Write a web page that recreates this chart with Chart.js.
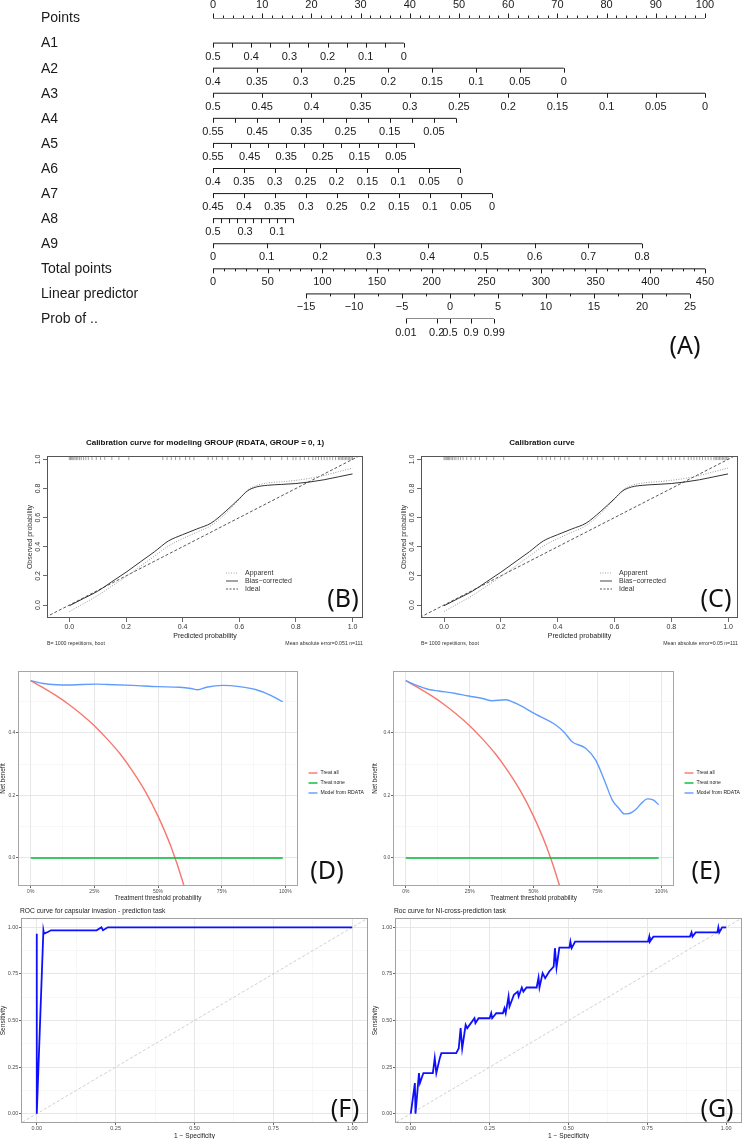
<!DOCTYPE html>
<html>
<head>
<meta charset="utf-8">
<title>Nomogram, calibration, decision and ROC curves</title>
<script src="https://cdn.jsdelivr.net/npm/chart.js@4.4.1/dist/chart.umd.min.js"></script>
<style>
  html, body { margin: 0; padding: 0; background: #fff; }
  body { position: relative; width: 744px; height: 1139px; overflow: hidden; }
  canvas { position: absolute; }
</style>
</head>
<body>
<canvas id="nomo" width="744" height="385" style="left:0;top:0"></canvas>
<canvas id="calB" width="372" height="265" style="left:0;top:395px"></canvas>
<canvas id="calC" width="372" height="265" style="left:372px;top:395px"></canvas>
<canvas id="dcaD" width="372" height="243" style="left:0;top:660px"></canvas>
<canvas id="dcaE" width="372" height="243" style="left:372px;top:660px"></canvas>
<canvas id="rocF" width="372" height="236" style="left:0;top:903px"></canvas>
<canvas id="rocG" width="372" height="236" style="left:372px;top:903px"></canvas>
<script>
const SANS = "'Liberation Sans', Arial, Helvetica, sans-serif";
const BIG = "'Noto Sans', 'DejaVu Sans', sans-serif";
const INK = "#1a1a1a";
Chart.defaults.font.family = SANS;

// ---------- (A) nomogram ----------
const rowNames = ["Points", "A1", "A2", "A3", "A4", "A5", "A6", "A7", "A8", "A9",
  "Total points", "Linear predictor", "Prob of .."];
// value at left end / right end of every scale, and where those ends sit on the points scale
const rowFrom = [0, 0.5, 0.4, 0.5, 0.55, 0.55, 0.4, 0.45, 0.5, 0, 0, -15];
const rowTo = [100, 0, 0, 0, 0, 0, 0, 0, 0, 0.8, 450, 25];
const rowFromPts = [0, 0, 0, 0, 0, 0, 0, 0, 0, 0, 0, 18.9];
const rowToPts = [100, 38.8, 71.3, 100, 49.4, 40.9, 50.2, 56.7, 16.3, 87.2, 100, 96.95];
const rowStep = [2, 0.05, 0.05, 0.05, 0.05, 0.05, 0.05, 0.05, 0.05, 0.1, 10, 2.5];
const rowLabels = [
  [0, 10, 20, 30, 40, 50, 60, 70, 80, 90, 100],
  [0.5, 0.4, 0.3, 0.2, 0.1, 0],
  [0.4, 0.35, 0.3, 0.25, 0.2, 0.15, 0.1, 0.05, 0],
  [0.5, 0.45, 0.4, 0.35, 0.3, 0.25, 0.2, 0.15, 0.1, 0.05, 0],
  [0.55, 0.45, 0.35, 0.25, 0.15, 0.05],
  [0.55, 0.45, 0.35, 0.25, 0.15, 0.05],
  [0.4, 0.35, 0.3, 0.25, 0.2, 0.15, 0.1, 0.05, 0],
  [0.45, 0.4, 0.35, 0.3, 0.25, 0.2, 0.15, 0.1, 0.05, 0],
  [0.5, 0.3, 0.1],
  [0, 0.1, 0.2, 0.3, 0.4, 0.5, 0.6, 0.7, 0.8],
  [0, 50, 100, 150, 200, 250, 300, 350, 400, 450],
  [-15, -10, -5, 0, 5, 10, 15, 20, 25]
];
const probLabels = [0.01, 0.2, 0.5, 0.9, 0.99];

// ---------- (B)/(C) calibration ----------
const calPred = [0, 0.05, 0.1, 0.15, 0.2, 0.25, 0.3, 0.35, 0.4, 0.45, 0.5, 0.55, 0.6, 0.63, 0.66, 0.7, 0.75, 0.8, 0.85, 0.9, 0.95, 1.0];
const calBias = [-0.005, 0.045, 0.095, 0.16, 0.225, 0.295, 0.365, 0.44, 0.483, 0.522, 0.562, 0.64, 0.73, 0.785, 0.81, 0.822, 0.828, 0.834, 0.845, 0.86, 0.88, 0.9];
const calApparent = [-0.045, 0.01, 0.065, 0.13, 0.195, 0.265, 0.335, 0.405, 0.455, 0.5, 0.545, 0.625, 0.725, 0.79, 0.82, 0.838, 0.846, 0.856, 0.87, 0.89, 0.915, 0.94];
const idealXY = [-0.1, 1.1];
const rugPred = [0.0, 0.004, 0.008, 0.012, 0.016, 0.02, 0.025, 0.03, 0.036, 0.042, 0.05, 0.058, 0.067, 0.08, 0.095,
  0.11, 0.125, 0.15, 0.175, 0.21, 0.33, 0.345, 0.36, 0.375, 0.39, 0.41, 0.425, 0.44, 0.49, 0.505, 0.52, 0.54,
  0.56, 0.6, 0.615, 0.645, 0.69, 0.71, 0.75, 0.77, 0.79, 0.8, 0.815, 0.83, 0.845, 0.86, 0.87, 0.88, 0.89, 0.9,
  0.91, 0.92, 0.93, 0.94, 0.95, 0.955, 0.96, 0.965, 0.97, 0.975, 0.98, 0.985, 0.99, 0.995, 1.0];
const calTicks = [0, 0.2, 0.4, 0.6, 0.8, 1.0];

// ---------- (D)/(E) decision curves ----------
const allX = [0, 0.05, 0.1, 0.15, 0.2, 0.25, 0.3, 0.35, 0.4, 0.45, 0.5, 0.55, 0.6, 0.65];
const allY = [0.567, 0.544, 0.519, 0.491, 0.459, 0.423, 0.381, 0.334, 0.278, 0.213, 0.134, 0.038, -0.083, -0.237];
const noneX = [0, 0.99];
const noneY = [0, 0];
const dcaDx = [0, 0.05, 0.1, 0.15, 0.2, 0.26, 0.3, 0.4, 0.5, 0.585, 0.63, 0.657, 0.69, 0.755, 0.82, 0.886, 0.938, 0.99];
const dcaDy = [0.567, 0.558, 0.554, 0.553, 0.555, 0.556, 0.555, 0.552, 0.548, 0.546, 0.542, 0.538, 0.546, 0.552, 0.548, 0.538, 0.522, 0.5];
const dcaEx = [0, 0.045, 0.09, 0.129, 0.19, 0.246, 0.3, 0.338, 0.39, 0.429, 0.47, 0.508, 0.586, 0.62, 0.651, 0.704,
  0.743, 0.782, 0.808, 0.834, 0.856, 0.878, 0.899, 0.925, 0.945, 0.97, 0.99];
const dcaEy = [0.567, 0.551, 0.539, 0.534, 0.527, 0.518, 0.51, 0.503, 0.506, 0.495, 0.478, 0.46, 0.426, 0.402, 0.372, 0.351,
  0.314, 0.239, 0.186, 0.159, 0.141, 0.143, 0.154, 0.177, 0.189, 0.185, 0.17];
const dcaLegend = ["Treat all", "Treat none", "Model from RDATA"];

// ---------- (F)/(G) ROC ----------
const rocFx = [0, 0, 0.021, 0.023, 0.035, 0.045, 0.19, 0.205, 0.21, 0.225, 1.0];
const rocFy = [0.966, 0, 0.984, 0.966, 0.975, 0.984, 0.984, 1.0, 0.984, 1.0, 1.0];
const rocGx = [0, 0.013, 0.015, 0.026, 0.029, 0.04, 0.07, 0.076, 0.081, 0.092, 0.097, 0.144,
  0.152, 0.158, 0.163, 0.174, 0.179, 0.202, 0.205, 0.215, 0.25, 0.255, 0.258, 0.271, 0.292,
  0.297, 0.301, 0.31, 0.313, 0.327, 0.339, 0.342, 0.352, 0.357, 0.367, 0.399, 0.405, 0.408,
  0.418, 0.426, 0.439, 0.453, 0.457, 0.462, 0.471, 0.503, 0.506, 0.51, 0.521, 0.752, 0.756,
  0.758, 0.769, 0.885, 0.89, 0.893, 0.903, 0.972, 0.975, 0.978, 0.987, 1.0];
const rocGy = [0, 0.164, 0, 0.218, 0.164, 0.218, 0.218, 0.298, 0.218, 0.298, 0.325, 0.325,
  0.35, 0.459, 0.35, 0.477, 0.459, 0.512, 0.486, 0.512, 0.512, 0.539, 0.512, 0.539, 0.539,
  0.566, 0.539, 0.629, 0.575, 0.638, 0.655, 0.629, 0.677, 0.655, 0.677, 0.677, 0.73, 0.677,
  0.754, 0.727, 0.763, 0.789, 0.888, 0.784, 0.891, 0.891, 0.923, 0.888, 0.923, 0.923, 0.95,
  0.923, 0.95, 0.95, 0.973, 0.95, 0.973, 0.973, 1.0, 0.973, 1.0, 1.0];
const rocTicks = [0, 0.25, 0.5, 0.75, 1];
const rocMinor = [0.125, 0.375, 0.625, 0.875];

// ---------- helpers ----------
const base = {
  responsive: false, animation: false, devicePixelRatio: 1, events: [],
  plugins: { legend: { display: false }, tooltip: { enabled: false }, title: { display: false } }
};

function xy(xs, ys) { return xs.map((v, i) => ({ x: v, y: ys[i] })); }

function txt(ctx, s, x, y, font, color, align, rot) {
  ctx.save();
  ctx.translate(x, y);
  if (rot) ctx.rotate(rot);
  ctx.font = font;
  ctx.fillStyle = color;
  ctx.textAlign = align || 'center';
  ctx.textBaseline = 'middle';
  ctx.fillText(s, 0, 0);
  ctx.restore();
}

function stepValues(from, to, step) {
  const n = Math.round(Math.abs(to - from) / step);
  const dir = to > from ? 1 : -1;
  const out = [];
  for (let k = 0; k <= n; k++) out.push(+(from + dir * k * step).toFixed(6));
  return out;
}

function rowPts(i, v) {
  return rowFromPts[i] + (v - rowFrom[i]) / (rowTo[i] - rowFrom[i]) * (rowToPts[i] - rowFromPts[i]);
}
function probPts(p) { return rowPts(11, Math.log(p / (1 - p))); }

function fmtNomo(v) {
  const s = String(+Math.abs(v).toFixed(4));
  return v < 0 ? '\u2212' + s : s;
}

// ---------- draw (A) ----------
const nomoPlugin = {
  id: 'nomoAxes',
  afterDatasetsDraw(chart) {
    const { ctx, scales: { x, y } } = chart;
    ctx.save();
    ctx.strokeStyle = INK;
    ctx.lineWidth = 1;
    rowNames.forEach((name, i) => {
      const py = y.getPixelForValue(i);
      txt(ctx, name, 41, py + 0.5, '14px ' + SANS, INK, 'left');
      const dir = i === 0 ? -1 : 1;
      let labels, ticks, toPx;
      if (i === 12) {
        labels = probLabels; ticks = probLabels;
        toPx = v => x.getPixelForValue(probPts(v));
      } else {
        labels = rowLabels[i];
        ticks = stepValues(rowFrom[i], rowTo[i], rowStep[i]);
        toPx = v => x.getPixelForValue(rowPts(i, v));
      }
      const shortMinor = i === 0 || i === 10 || i === 11;
      ctx.beginPath();
      ticks.forEach(v => {
        const lab = labels.some(l => Math.abs(l - v) < 1e-9);
        const len = shortMinor && !lab ? 2.5 : 4.5;
        const px = Math.round(toPx(v)) + 0.5;
        ctx.moveTo(px, py);
        ctx.lineTo(px, py + dir * len);
      });
      ctx.stroke();
      labels.forEach(v => txt(ctx, fmtNomo(v), toPx(v), py + dir * 13.5, '11px ' + SANS, INK));
    });
    txt(ctx, '(A)', 685, 347, '25px ' + BIG, '#111');
    ctx.restore();
  }
};

new Chart(document.getElementById('nomo'), {
  type: 'scatter',
  data: {
    datasets: rowNames.map((n, i) => {
      const a = i === 12 ? probPts(probLabels[0]) : rowFromPts[i];
      const b = i === 12 ? probPts(probLabels[probLabels.length - 1]) : rowToPts[i];
      return { label: n, data: [{ x: a, y: i }, { x: b, y: i }], showLine: true,
        borderColor: INK, borderWidth: 1, pointRadius: 0 };
    })
  },
  options: {
    ...base,
    layout: { padding: { left: 213, right: 39, top: 18, bottom: 66 } },
    scales: {
      x: { type: 'linear', min: 0, max: 100, display: false },
      y: { type: 'linear', min: 0, max: 12, reverse: true, display: false }
    }
  },
  plugins: [nomoPlugin]
});

// ---------- draw (B)/(C) ----------
function rAxis(min, max, fit, showLabels) {
  return {
    type: 'linear', min, max, bounds: 'data',
    afterBuildTicks: s => { s.ticks = calTicks.map(v => ({ value: v })); },
    afterFit: fit,
    border: { display: false },
    grid: { drawOnChartArea: false, drawTicks: true, tickLength: 4, tickColor: '#444', lineWidth: 0.8 },
    ticks: { display: showLabels, autoSkip: false, maxRotation: 0, padding: 1, color: '#333',
      font: { size: 7, family: SANS }, callback: v => v.toFixed(1) }
  };
}

function calChart(id, title, titleDx, mae, xMin, xMax, leftW, padRight, letterX) {
  const annot = {
    id: 'calAnnot',
    afterDraw(chart) {
      const { ctx, chartArea: a, scales: { y } } = chart;
      ctx.save();
      ctx.strokeStyle = '#555';
      ctx.lineWidth = 1;
      ctx.strokeRect(a.left + 0.5, a.top + 0.5, a.right - a.left - 1, a.bottom - a.top - 1);
      calTicks.forEach(v => txt(ctx, v.toFixed(1), a.left - 8.7, y.getPixelForValue(v), '7px ' + SANS, '#333', 'center', -Math.PI / 2));
      txt(ctx, 'Observed probability', a.left - 16.5, (a.top + a.bottom) / 2, '7px ' + SANS, '#333', 'center', -Math.PI / 2);
      txt(ctx, 'Predicted probability', (a.left + a.right) / 2, a.bottom + 17.7, '7px ' + SANS, '#222');
      txt(ctx, title, a.left + titleDx, a.top - 13, 'bold 8px ' + SANS, '#111');
      txt(ctx, 'B= 1000 repetitions, boot', a.left, a.bottom + 26, '5.2px ' + SANS, '#333', 'left');
      txt(ctx, 'Mean absolute error=' + mae + ' n=111', a.right, a.bottom + 26, '5.2px ' + SANS, '#333', 'right');
      const keys = [['Apparent', '#9a9a9a', [1, 1.5]], ['Bias\u2212corrected', '#333', []], ['Ideal', '#444', [2, 1.5]]];
      keys.forEach((k, j) => {
        const ly = a.top + 117 + j * 8;
        ctx.beginPath();
        ctx.strokeStyle = k[1];
        ctx.lineWidth = 0.9;
        ctx.setLineDash(k[2]);
        ctx.moveTo(a.left + 179, ly);
        ctx.lineTo(a.left + 191, ly);
        ctx.stroke();
        ctx.setLineDash([]);
        txt(ctx, k[0], a.left + 198, ly, '7px ' + SANS, '#333', 'left');
      });
      txt(ctx, '(' + id.slice(-1) + ')', letterX, 205, '25px ' + BIG, '#111');
      ctx.restore();
    }
  };
  new Chart(document.getElementById(id), {
    type: 'scatter',
    data: {
      datasets: [
        { label: 'Bias-corrected', data: xy(calPred, calBias), showLine: true, borderColor: '#333', borderWidth: 1,
          pointRadius: 0, cubicInterpolationMode: 'monotone' },
        { label: 'Apparent', data: xy(calPred, calApparent), showLine: true, borderColor: '#9a9a9a', borderWidth: 1,
          borderDash: [1, 1.5], pointRadius: 0, cubicInterpolationMode: 'monotone' },
        { label: 'Ideal', data: xy(idealXY, idealXY), showLine: true, borderColor: '#444', borderWidth: 0.9,
          borderDash: [3, 2], pointRadius: 0, clip: 0 },
        { label: 'rug', data: rugPred.map(v => ({ x: v, y: 1.01 })), showLine: false, pointStyle: 'line',
          pointRotation: 90, pointRadius: 2.2, pointBorderColor: '#8a8a8a', borderColor: '#8a8a8a', pointBorderWidth: 0.8 }
      ]
    },
    options: {
      ...base,
      layout: { padding: { top: 61, right: padRight, left: 0, bottom: 0 } },
      scales: {
        x: rAxis(xMin, xMax, s => { s.height = 42; }, true),
        y: rAxis(-0.089, 1.023, s => { s.width = leftW; }, false)
      }
    },
    plugins: [annot]
  });
}

calChart('calB', 'Calibration curve for modeling GROUP (RDATA, GROUP = 0, 1)', 158, '0.051', -0.079, 1.037, 47, 9, 343);
calChart('calC', 'Calibration curve', 121, '0.05', -0.081, 1.035, 49, 6, 344);

// ---------- ggplot style axes ----------
function ggAxis(min, max, major, minor, fmt, fit, size) {
  const all = major.concat(minor).sort((a, b) => a - b);
  const isMajor = v => major.some(m => Math.abs(m - v) < 1e-9);
  return {
    type: 'linear', min, max, bounds: 'data',
    afterBuildTicks: s => { s.ticks = all.map(v => ({ value: v })); },
    afterFit: fit,
    border: { display: false },
    grid: {
      color: c => (c.tick && isMajor(c.tick.value)) ? '#e4e4e4' : '#f2f2f2',
      lineWidth: c => (c.tick && isMajor(c.tick.value)) ? 0.9 : 0.6,
      drawTicks: true, tickLength: 2,
      tickColor: c => (c.tick && isMajor(c.tick.value)) ? '#555' : 'rgba(0,0,0,0)'
    },
    ticks: { autoSkip: false, maxRotation: 0, padding: 0.6, color: '#4d4d4d',
      font: { size: size, family: SANS }, callback: v => isMajor(v) ? fmt(v) : '' }
  };
}

function frame(ctx, a, color) {
  ctx.strokeStyle = color;
  ctx.lineWidth = 1;
  ctx.strokeRect(a.left + 0.5, a.top + 0.5, a.right - a.left - 1, a.bottom - a.top - 1);
}

// ---------- draw (D)/(E) ----------
const dcaColors = ['#F8766D', '#00BA38', '#619CFF'];

function dcaChart(id, mx, my, leftW, padRight, letterX) {
  const annot = {
    id: 'dcaAnnot',
    afterDraw(chart) {
      const { ctx, chartArea: a } = chart;
      ctx.save();
      frame(ctx, a, '#a6a6a6');
      txt(ctx, 'Net benefit', 3.5, (a.top + a.bottom) / 2, '6.3px ' + SANS, '#222', 'center', -Math.PI / 2);
      txt(ctx, 'Treatment threshold probability', (a.left + a.right) / 2, a.bottom + 12, '6.3px ' + SANS, '#222');
      dcaLegend.forEach((name, j) => {
        const ly = 113 + j * 10;
        ctx.beginPath();
        ctx.strokeStyle = dcaColors[j];
        ctx.lineWidth = 1.4;
        ctx.moveTo(a.right + 10.5, ly);
        ctx.lineTo(a.right + 19.5, ly);
        ctx.stroke();
        txt(ctx, name, a.right + 22.5, ly, '5.1px ' + SANS, '#222', 'left');
      });
      txt(ctx, '(' + id.slice(-1) + ')', letterX, 211.5, '25px ' + BIG, '#111');
      ctx.restore();
    }
  };
  new Chart(document.getElementById(id), {
    type: 'scatter',
    data: {
      datasets: [
        { label: dcaLegend[2], data: xy(mx, my), showLine: true, borderColor: dcaColors[2], borderWidth: 1.4,
          pointRadius: 0, cubicInterpolationMode: 'monotone' },
        { label: dcaLegend[1], data: xy(noneX, noneY), showLine: true, borderColor: dcaColors[1], borderWidth: 1.4,
          pointRadius: 0 },
        { label: dcaLegend[0], data: xy(allX, allY), showLine: true, borderColor: dcaColors[0], borderWidth: 1.4,
          pointRadius: 0, cubicInterpolationMode: 'monotone', clip: 0 }
      ]
    },
    options: {
      ...base,
      layout: { padding: { top: 11, right: padRight, left: 0, bottom: 0 } },
      scales: {
        x: ggAxis(-0.05, 1.05, [0, 0.25, 0.5, 0.75, 1], [0.125, 0.375, 0.625, 0.875],
          v => Math.round(v * 100) + '%', s => { s.height = 17; }, 5),
        y: ggAxis(-0.0896, 0.598, [0, 0.2, 0.4], [0.1, 0.3, 0.5],
          v => v.toFixed(1), s => { s.width = leftW; }, 5)
      }
    },
    plugins: [annot]
  });
}

dcaChart('dcaD', dcaDx, dcaDy, 18, 74, 327);
dcaChart('dcaE', dcaEx, dcaEy, 21, 70, 334);

// ---------- draw (F)/(G) ----------
function rocChart(id, xs, ys, title, leftW, padRight, letterX) {
  const annot = {
    id: 'rocAnnot',
    afterDraw(chart) {
      const { ctx, chartArea: a } = chart;
      ctx.save();
      frame(ctx, a, '#a0a0a0');
      txt(ctx, title, a.left - 1, 8, '6.7px ' + SANS, '#222', 'left');
      txt(ctx, 'Sensitivity', 3, (a.top + a.bottom) / 2, '6.6px ' + SANS, '#222', 'center', -Math.PI / 2);
      txt(ctx, '1 \u2212 Specificity', (a.left + a.right) / 2, a.bottom + 13, '6.6px ' + SANS, '#222');
      txt(ctx, '(' + id.slice(-1) + ')', letterX, 207, '25px ' + BIG, '#111');
      ctx.restore();
    }
  };
  new Chart(document.getElementById(id), {
    type: 'scatter',
    data: {
      datasets: [
        { label: 'ROC', data: xy(xs, ys), showLine: true, borderColor: '#0f0fff', borderWidth: 1.8,
          pointRadius: 0, clip: 0 },
        { label: 'chance', data: xy([-0.1, 1.1], [-0.1, 1.1]), showLine: true, borderColor: '#c4c4c4',
          borderWidth: 0.8, borderDash: [3, 2], pointRadius: 0, clip: 0 }
      ]
    },
    options: {
      ...base,
      layout: { padding: { top: 15, right: padRight, left: 0, bottom: 0 } },
      scales: {
        x: ggAxis(-0.05, 1.05, rocTicks, rocMinor, v => v.toFixed(2), s => { s.height = 16; }, 5.5),
        y: ggAxis(-0.05, 1.05, rocTicks, rocMinor, v => v.toFixed(2), s => { s.width = leftW; }, 5.5)
      }
    },
    plugins: [annot]
  });
}

rocChart('rocF', rocFx, rocFy, 'ROC curve for capsular invasion - prediction task', 21, 4, 345);
rocChart('rocG', rocGx, rocGy, 'Roc curve for NI-cross-prediction task', 23, 2, 345);
</script>
</body>
</html>
